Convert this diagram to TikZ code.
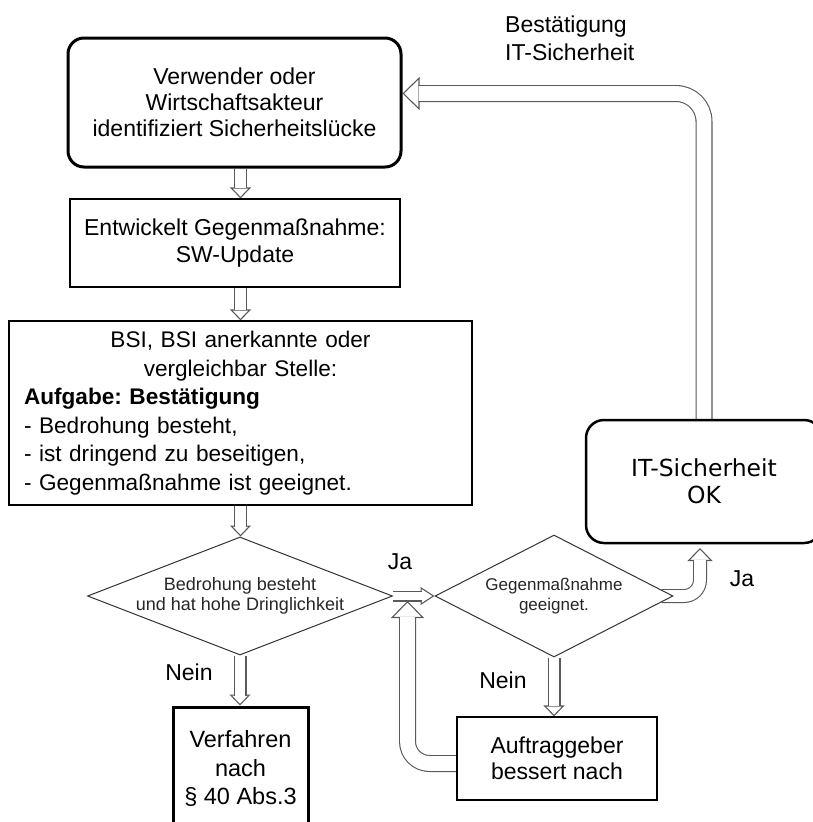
\documentclass[tikz,border=0pt]{standalone}
\usepackage{fontspec}
\setmainfont{Liberation Sans}
\newfontfamily\okschrift{DejaVu Sans}
\usetikzlibrary{arrows.meta,shapes.geometric,backgrounds}
\setlength{\parindent}{0pt}
\frenchspacing

\tikzset{
  kasten/.style={draw, fill=white, rectangle, inner sep=0pt, align=center, line width=1.2pt},
  dickkasten/.style={kasten, line width=3pt},
  raute/.style={draw=black!80, fill=white, diamond, inner sep=0pt, align=center, line width=1pt, text=black!85},
  hohl/.style n args={5}{draw=black!65, line width=1.1pt,
    -{Triangle[length=#3,width=#4,fill=white]},
    postaction={draw=black!65, -, line width=#1, shorten >=#5},
    postaction={draw=white, -, line width=#2, shorten >=#5}},
  pfeil/.style={hohl={13pt}{10.8pt}{11pt}{21pt}{10pt}},
  japfeil/.style={hohl={11pt}{8.8pt}{14pt}{18pt}{13pt}},
  rechtspfeil/.style={hohl={14pt}{11.8pt}{13pt}{25pt}{12pt}},
  grosspfeil/.style={hohl={17pt}{14.8pt}{17pt}{33pt}{16pt}},
}

\begin{document}
\begin{tikzpicture}[x=1pt, y=1pt, font=\fontsize{23}{27.5}\selectfont]
  \useasboundingbox (0,0) rectangle (812,-822);
  % Kaesten
  \node[dickkasten, rounded corners=16pt, minimum width=333pt, minimum height=129pt,
        font=\fontsize{23}{26}\selectfont] (melder) at (234.5,-102.5)
        {Verwender oder\\Wirtschaftsakteur\\identifiziert Sicherheitslücke};
  \node[kasten, minimum width=330pt, minimum height=88pt] (update) at (235,-243)
        {Entwickelt Gegenmaßnahme:\\SW-Update};
  \node[kasten, minimum width=463pt, minimum height=184pt, text width=433pt, align=left,
        font=\fontsize{22.6}{28.5}\selectfont] (bsi) at (240.5,-413)
        {{\centering BSI, BSI anerkannte oder\\vergleichbar Stelle:\par}
         \textbf{Aufgabe: Bestätigung}\\
         - Bedrohung besteht,\\
         - ist dringend zu beseitigen,\\
         - Gegenmaßnahme ist geeignet.};
  \node[raute, aspect=2.585, minimum width=305pt, minimum height=118pt,
        font=\fontsize{18}{20}\selectfont] (dring) at (240,-596)
        {Bedrohung besteht\\und hat hohe Dringlichkeit};
  \node[raute, aspect=1.95, minimum width=238pt, minimum height=122pt,
        font=\fontsize{17}{20.5}\selectfont] (geeignet) at (554,-596)
        {Gegenmaßnahme\\geeignet.};
  \node[kasten, line width=2.5pt, rounded corners=18pt, minimum width=236pt, minimum height=123pt,
        font=\okschrift\fontsize{23.5}{27}\selectfont] (itok) at (704,-481.5)
        {IT-Sicherheit\\OK};
  \node[dickkasten, minimum width=135pt, minimum height=123pt,
        font=\fontsize{23.5}{28.5}\selectfont] (verfahren) at (240.5,-768.5)
        {Verfahren\\nach\\§ 40 Abs.3};
  \node[kasten, minimum width=200pt, minimum height=83pt,
        font=\fontsize{23}{26}\selectfont] (nachbess) at (557,-758.5)
        {Auftraggeber\\bessert nach};
  % Beschriftungen
  \node[inner sep=0pt] (ja1) at (400,-562) {Ja};
  \node[inner sep=0pt] (nein1) at (189,-672) {Nein};
  \node[inner sep=0pt] (nein2) at (503,-680) {Nein};
  \node[inner sep=0pt] (ja2) at (742,-579) {Ja};
  \node[inner sep=0pt, anchor=west, align=left] (bestaet) at (505,-38.5)
        {Bestätigung\\IT-Sicherheit};
  \coordinate (ruecktip) at (407.5,-601);
  \coordinate (jatip) at (700,-548);
  % Pfeile
  \begin{scope}[on background layer]
    \draw[pfeil] (melder.south -| bsi.center) -- (update.north -| bsi.center);
    \draw[pfeil] (update.south -| bsi.center) -- (bsi.north);
    \draw[pfeil] (bsi.south) -- (bsi.south |- dring.north);
    \draw[pfeil] (dring.south) -- (dring.south |- verfahren.north);
    \draw[pfeil] (geeignet.south) -- (geeignet.south |- nachbess.north);
    \draw[grosspfeil, rounded corners=22pt] ([yshift=-5pt]nachbess.west) -| (ruecktip);
    \draw[japfeil] (dring.east) -- (geeignet.west);
    \draw[rechtspfeil, rounded corners=16pt] ([xshift=-12pt]geeignet.east) -| (jatip);
    \draw[grosspfeil, rounded corners=28pt] (itok.north) |- ([yshift=9pt]melder.east);
  \end{scope}
\end{tikzpicture}
\end{document}
